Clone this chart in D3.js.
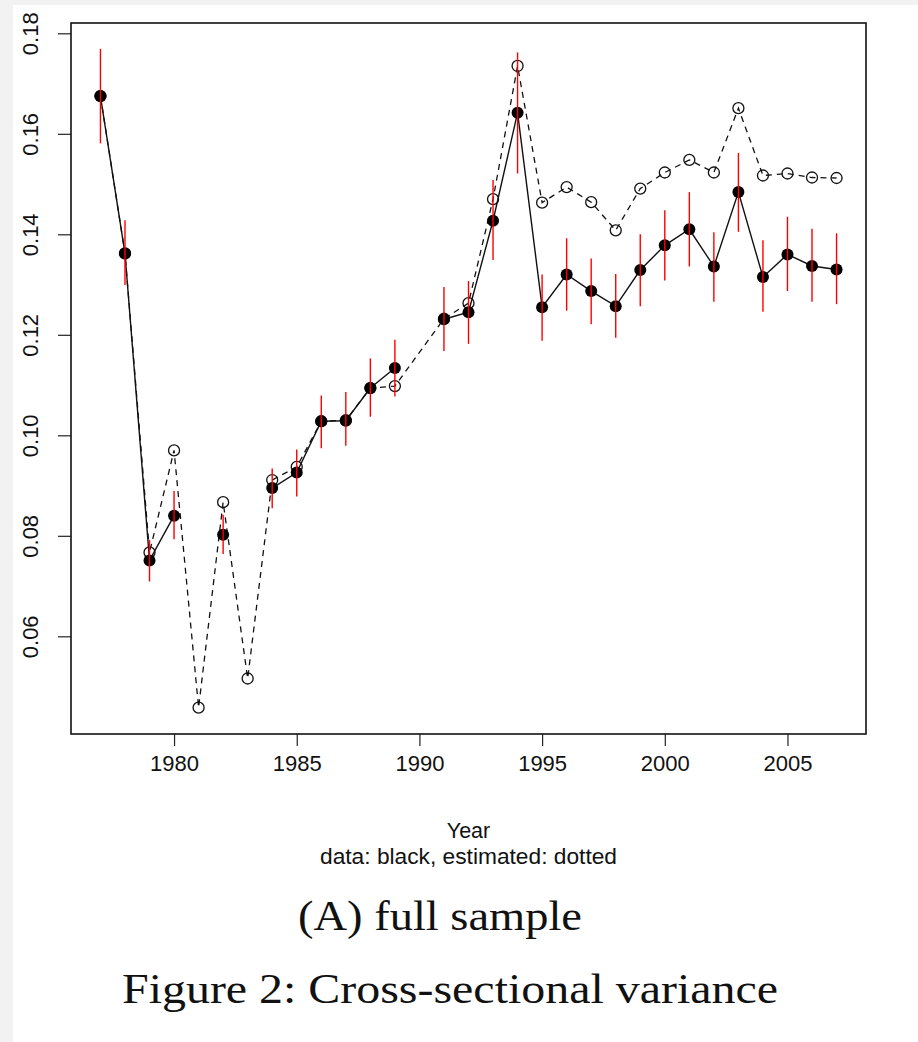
<!DOCTYPE html>
<html>
<head>
<meta charset="utf-8">
<script src="https://cdn.jsdelivr.net/npm/d3@7"></script>
<style>
  html, body { margin: 0; padding: 0; background: #f2f2f2; }
  svg { display: block; }
</style>
</head>
<body>
<svg id="chart" width="918" height="1042"></svg>
<script>
// ---- Data ----
const years = [1977,1978,1979,1980,1981,1982,1983,1984,1985,1986,1987,1988,1989,1990,1991,1992,1993,1994,1995,1996,1997,1998,1999,2000,2001,2002,2003,2004,2005,2006,2007];
const dataValues = [0.1675,0.1362,0.0751,0.0840,null,0.0802,null,0.0895,0.0926,0.1028,0.1029,0.1094,0.1134,null,0.1231,0.1245,0.1427,0.1642,0.1255,0.1320,0.1287,0.1257,0.1329,0.1378,0.1410,0.1336,0.1484,0.1315,0.1360,0.1337,0.1330];
const lowerBound = [0.1581,0.1299,0.0709,0.0793,null,0.0764,null,0.0855,0.0878,0.0974,0.0979,0.1037,0.1077,null,0.1168,0.1182,0.1349,0.1521,0.1188,0.1248,0.1221,0.1194,0.1257,0.1308,0.1336,0.1266,0.1405,0.1246,0.1287,0.1266,0.1261];
const upperBound = [0.1769,0.1428,0.0792,0.0889,null,0.0842,null,0.0934,0.0972,0.1079,0.1086,0.1153,0.1190,null,0.1295,0.1307,0.1508,0.1762,0.1320,0.1392,0.1352,0.1321,0.1400,0.1448,0.1484,0.1404,0.1562,0.1388,0.1435,0.1411,0.1402];
const estimatedValues = [0.1675,0.1362,0.0767,0.0970,0.0458,0.0867,0.0516,0.0911,0.0937,0.1028,0.1030,0.1094,0.1098,null,0.1232,0.1263,0.1470,0.1735,0.1463,0.1494,0.1464,0.1408,0.1491,0.1523,0.1548,0.1523,0.1651,0.1517,0.1521,0.1513,0.1512];
const xTicks = [1980,1985,1990,1995,2000,2005];
const yTicks = [0.06,0.08,0.10,0.12,0.14,0.16,0.18];
const xTitle = "Year";
const xSubtitle = "data: black, estimated: dotted";
const subCaption = "(A) full sample";
const figCaption = "Figure 2: Cross-sectional variance";

// ---- Layout ----
const svg = d3.select("#chart");
svg.append("rect").attr("x", 13).attr("y", 5).attr("width", 905).attr("height", 1037).attr("fill", "#ffffff");

const box = {left: 71, right: 866, top: 23, bottom: 734};
const x = d3.scaleLinear().domain([1975.8, 2008.2]).range([box.left, box.right]);
const y = d3.scaleLinear().domain([0.04056, 0.18205]).range([box.bottom, box.top]);

const sans = "'Liberation Sans', Arial, Helvetica, sans-serif";
const serif = "'Liberation Serif', 'Times New Roman', serif";

// axes
const xAxis = svg.append("g").attr("transform", `translate(0,${box.bottom})`)
  .call(d3.axisBottom(x).tickValues(xTicks).tickFormat(d3.format("d")).tickSize(12).tickPadding(9));
xAxis.select(".domain").remove();
xAxis.selectAll("line").attr("stroke", "#222").attr("stroke-width", 1.2);
xAxis.selectAll("text").attr("font-family", sans).attr("font-size", 22).attr("fill", "#111");

const yAxis = svg.append("g").attr("transform", `translate(${box.left},0)`)
  .call(d3.axisLeft(y).tickValues(yTicks).tickFormat(d3.format(".2f")).tickSize(13));
yAxis.select(".domain").remove();
yAxis.selectAll("line").attr("stroke", "#222").attr("stroke-width", 1.2);
yAxis.selectAll("text")
  .attr("font-family", sans).attr("font-size", 22).attr("fill", "#111")
  .attr("x", null).attr("dy", null)
  .attr("text-anchor", "middle")
  .attr("transform", `translate(${38 - box.left},0) rotate(-90)`);

// box
svg.append("rect").attr("x", box.left).attr("y", box.top)
  .attr("width", box.right - box.left).attr("height", box.bottom - box.top)
  .attr("fill", "none").attr("stroke", "#111").attr("stroke-width", 1.6);

// series
const dataPts = years.map((yr, i) => ({yr, v: dataValues[i], lo: lowerBound[i], hi: upperBound[i]}));
const estPts = years.map((yr, i) => ({yr, v: estimatedValues[i]})).filter(d => d.v !== null);

// estimated dashed line
svg.append("path").datum(estPts)
  .attr("d", d3.line().x(d => x(d.yr)).y(d => y(d.v)))
  .attr("fill", "none").attr("stroke", "#111").attr("stroke-width", 1.3)
  .attr("stroke-dasharray", "6,5");
svg.append("g").selectAll("circle").data(estPts).join("circle")
  .attr("cx", d => x(d.yr)).attr("cy", d => y(d.v)).attr("r", 5.5)
  .attr("fill", "none").attr("stroke", "#111").attr("stroke-width", 1.3);

// data solid line
svg.append("path").datum(dataPts)
  .attr("d", d3.line().defined(d => d.v !== null).x(d => x(d.yr)).y(d => y(d.v)))
  .attr("fill", "none").attr("stroke", "#111").attr("stroke-width", 1.4);
const validData = dataPts.filter(d => d.v !== null);
svg.append("g").selectAll("circle").data(validData).join("circle")
  .attr("cx", d => x(d.yr)).attr("cy", d => y(d.v)).attr("r", 6)
  .attr("fill", "#000");

// error bars
svg.append("g").selectAll("line").data(validData).join("line")
  .attr("x1", d => x(d.yr)).attr("x2", d => x(d.yr))
  .attr("y1", d => y(d.lo)).attr("y2", d => y(d.hi))
  .attr("stroke", "#ff0000").attr("stroke-width", 1.4);

// axis titles
const cx = (box.left + box.right) / 2;
svg.append("text").attr("x", cx).attr("y", 838).attr("text-anchor", "middle")
  .attr("font-family", sans).attr("font-size", 21.5).attr("fill", "#111").text(xTitle);
svg.append("text").attr("x", cx).attr("y", 864).attr("text-anchor", "middle")
  .attr("font-family", sans).attr("font-size", 21.5).attr("fill", "#111")
  .attr("textLength", 297).attr("lengthAdjust", "spacingAndGlyphs").text(xSubtitle);

// captions
svg.append("text").attr("x", 298).attr("y", 930)
  .attr("font-family", serif).attr("font-size", 43).attr("fill", "#111")
  .attr("textLength", 284).attr("lengthAdjust", "spacingAndGlyphs").text(subCaption);
svg.append("text").attr("x", 122).attr("y", 1003)
  .attr("font-family", serif).attr("font-size", 43).attr("fill", "#111")
  .attr("textLength", 656).attr("lengthAdjust", "spacingAndGlyphs").text(figCaption);
</script>
</body>
</html>
